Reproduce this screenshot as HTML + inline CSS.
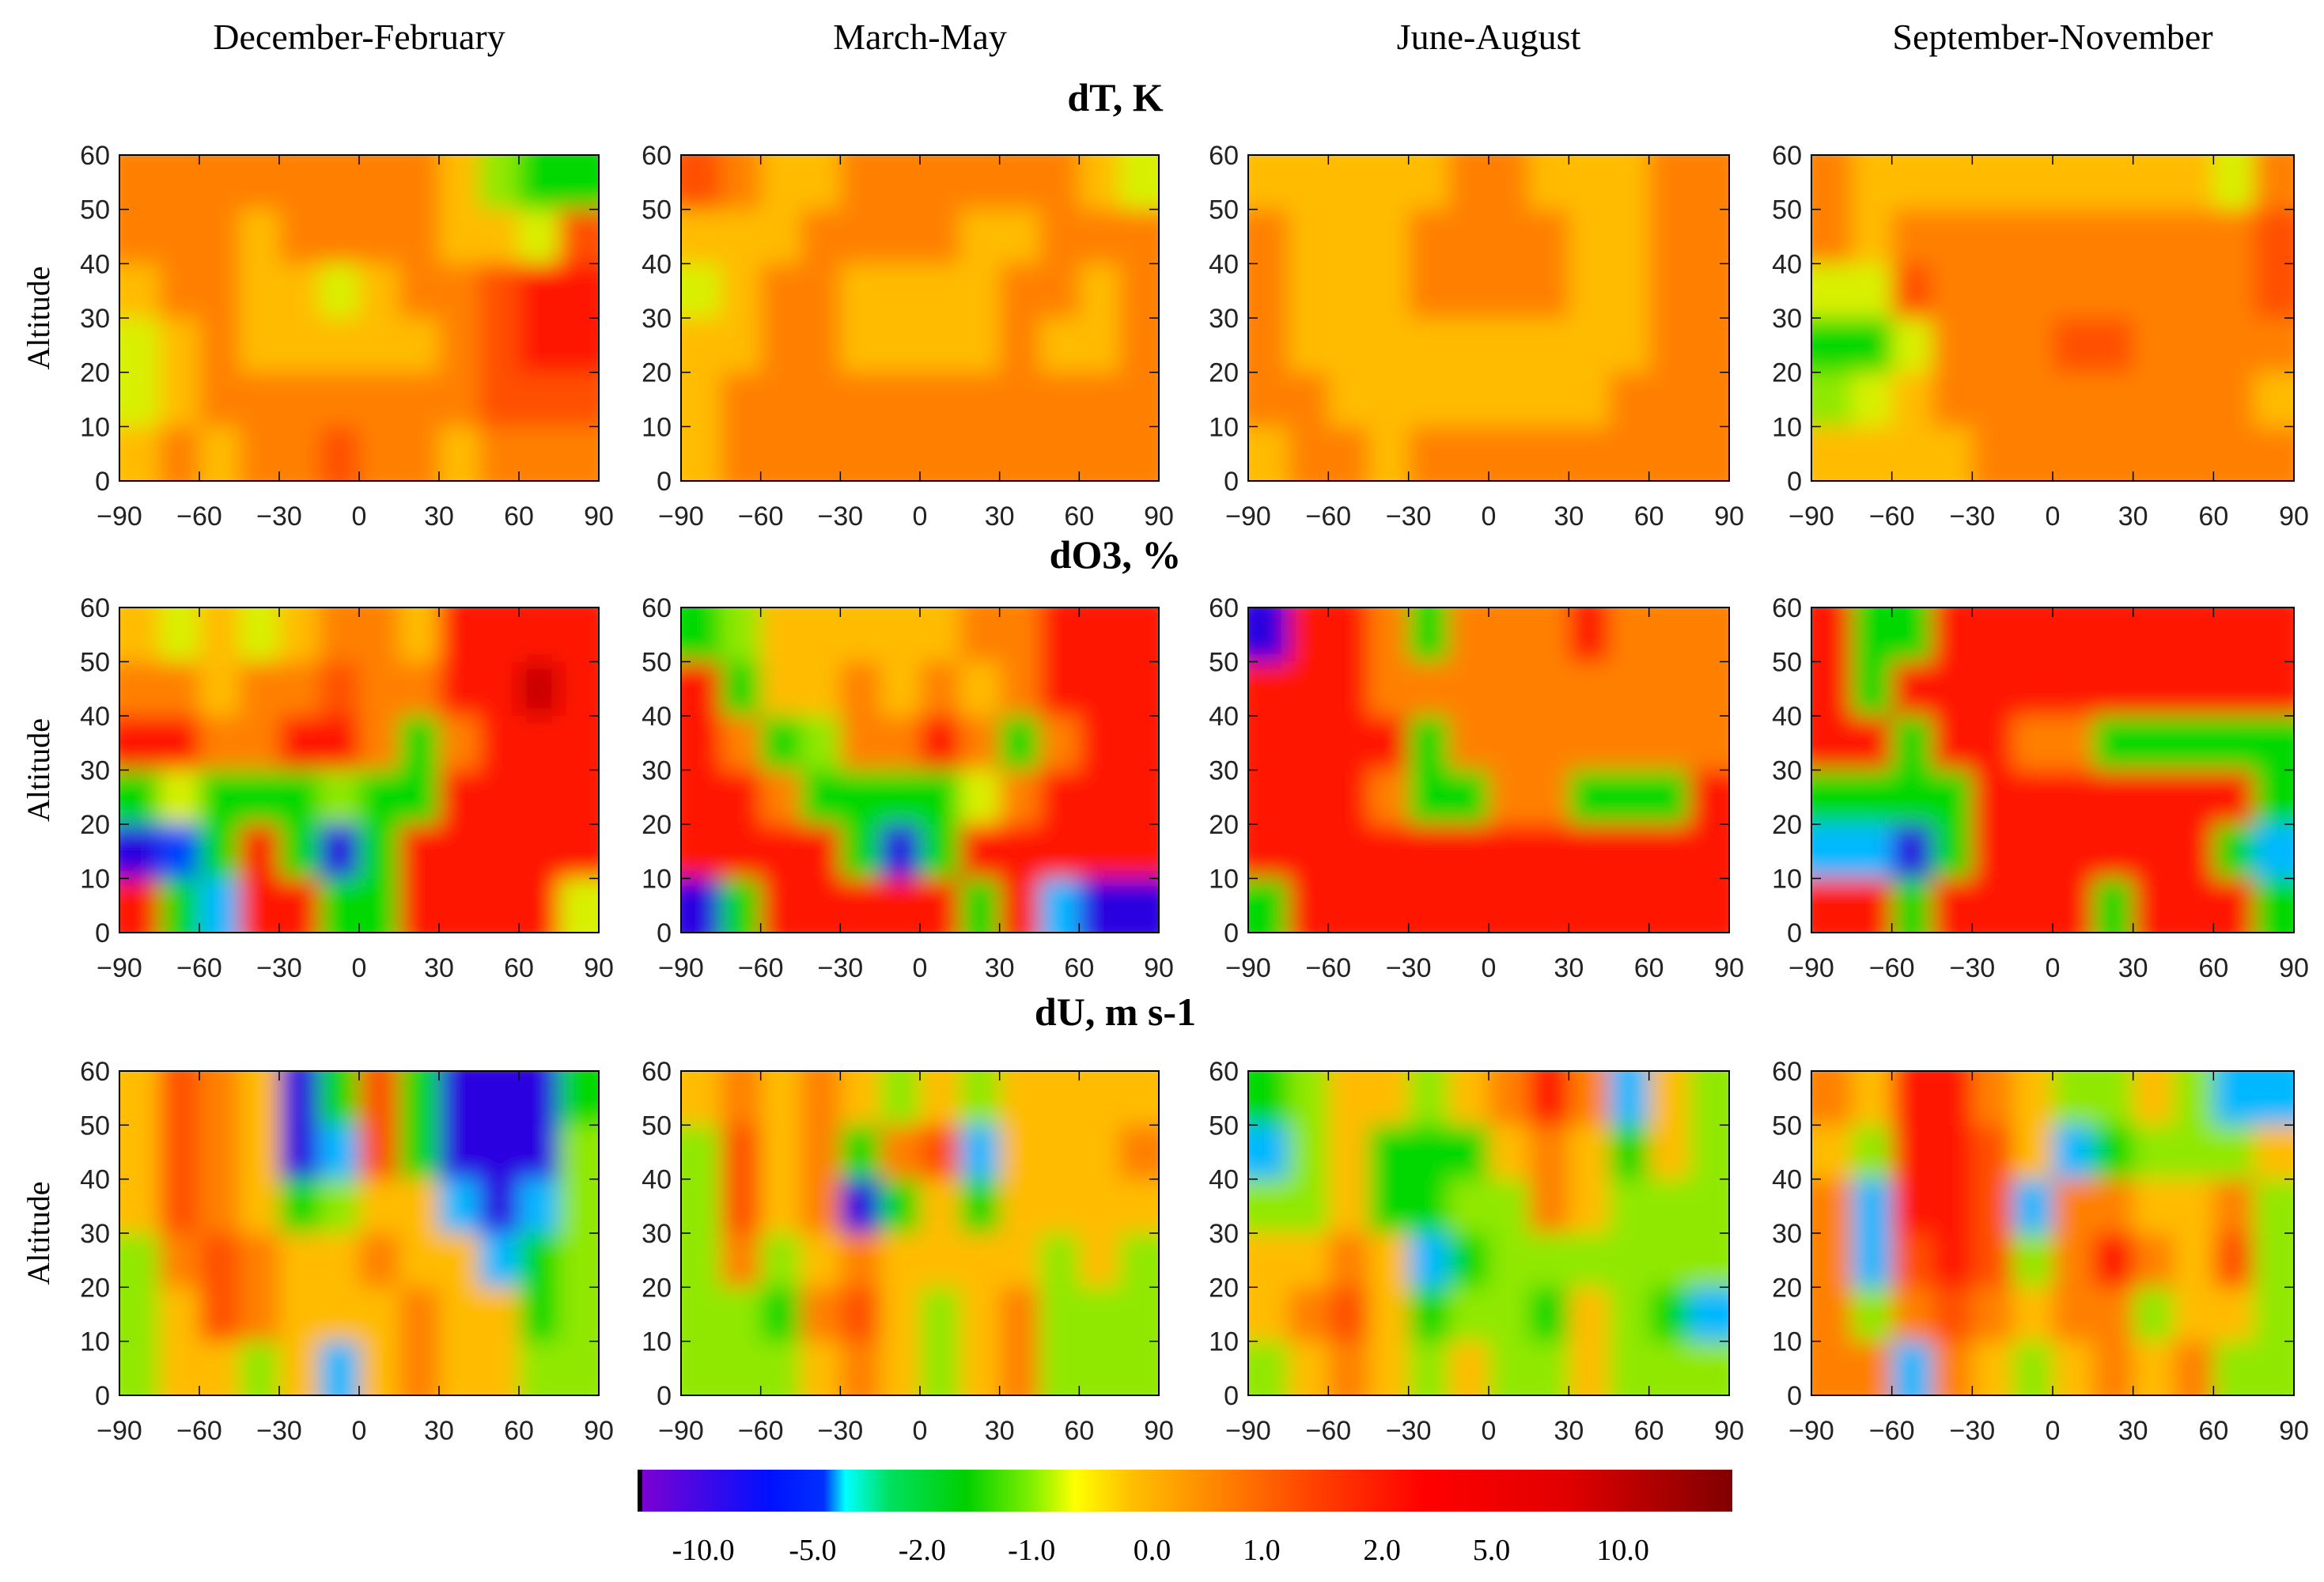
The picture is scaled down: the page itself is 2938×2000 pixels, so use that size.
<!DOCTYPE html>
<html><head><meta charset="utf-8">
<style>
html,body{margin:0;padding:0;background:#fff;}
body{width:2938px;height:1995px;overflow:hidden;}
svg text{font-family:"Liberation Sans",sans-serif;}
.serif{font-family:"Liberation Serif",serif;}
</style></head>
<body>
<svg id="fig" width="2938" height="1995" viewBox="0 0 2938 1995" xmlns="http://www.w3.org/2000/svg">
<defs>
<filter id="soft" x="0" y="0" width="1" height="1"><feGaussianBlur stdDeviation="14"/></filter>
<linearGradient id="cbar" x1="0" x2="1" y1="0" y2="0">
<stop offset="0" stop-color="#8000d0"/><stop offset="0.12" stop-color="#0010ff"/>
<stop offset="0.17" stop-color="#0030ff"/><stop offset="0.19" stop-color="#00ffff"/>
<stop offset="0.23" stop-color="#00e060"/><stop offset="0.30" stop-color="#00d000"/>
<stop offset="0.36" stop-color="#80f000"/><stop offset="0.40" stop-color="#ffff00"/>
<stop offset="0.45" stop-color="#ffc000"/><stop offset="0.52" stop-color="#ff8c00"/>
<stop offset="0.62" stop-color="#ff4000"/><stop offset="0.72" stop-color="#ff0000"/>
<stop offset="0.85" stop-color="#e00000"/><stop offset="1" stop-color="#800000"/>
</linearGradient>
</defs>
</svg>
<script>
// ---- data: each panel 6 altitude bands (top 55 km to bottom 5 km) x 12 latitude bins (-82.5..82.5)
const seasons = ["December-February","March-May","June-August","September-November"];
const variables = ["dT, K","dO3, %","dU, m s-1"];
const latTicks = [-90,-60,-30,0,30,60,90];
const altTicks = [0,10,20,30,40,50,60];
const cbarLabels = ["-10.0","-5.0","-2.0","-1.0","0.0","1.0","2.0","5.0","10.0"];
const cbarLabelPos = [0.06,0.16,0.26,0.36,0.47,0.57,0.68,0.78,0.90];

const dT_DJF = [
[0.7,0.7,0.7,0.7,0.7,0.7,0.7,0.7,0.3,-0.7,-1.5,-1.5],
[0.7,0.7,0.7,0.3,0.7,0.7,0.7,0.7,0.3,0.3,-0.3,1.2],
[0.3,0.7,0.7,0.3,0.3,-0.2,0.3,0.7,0.7,1.2,2.5,2.5],
[-0.3,0.3,0.7,0.3,0.3,0.3,0.3,0.3,0.7,1.2,2.5,2.5],
[-0.3,0.3,0.7,0.7,0.7,0.7,0.7,0.7,0.7,1.2,1.2,1.2],
[0.3,0.7,0.3,0.7,0.7,1.2,0.7,0.7,0.3,0.7,0.7,0.7]];
const dT_MAM = [
[1.2,0.7,0.3,0.3,0.7,0.7,0.7,0.7,0.7,0.7,0.3,-0.3],
[0.3,0.3,0.3,0.7,0.7,0.7,0.7,0.3,0.3,0.7,0.7,0.7],
[-0.3,0.3,0.7,0.7,0.3,0.3,0.3,0.3,0.7,0.7,0.3,0.7],
[0.3,0.3,0.7,0.7,0.3,0.3,0.3,0.3,0.7,0.3,0.3,0.7],
[0.3,0.7,0.7,0.7,0.7,0.7,0.7,0.7,0.7,0.7,0.7,0.7],
[0.3,0.7,0.7,0.7,0.7,0.7,0.7,0.7,0.7,0.7,0.7,0.7]];
const dT_JJA = [
[0.3,0.3,0.3,0.3,0.3,0.7,0.7,0.3,0.3,0.3,0.7,0.7],
[0.7,0.3,0.3,0.3,0.7,0.7,0.7,0.7,0.3,0.3,0.7,0.7],
[0.7,0.3,0.3,0.3,0.7,0.7,0.7,0.7,0.3,0.3,0.7,0.7],
[0.7,0.3,0.3,0.3,0.3,0.3,0.3,0.3,0.3,0.3,0.7,0.7],
[0.7,0.7,0.3,0.3,0.3,0.3,0.3,0.3,0.3,0.7,0.7,0.7],
[0.3,0.7,0.7,0.3,0.7,0.7,0.7,0.7,0.7,0.7,0.7,0.7]];
const dT_SON = [
[0.7,0.3,0.3,0.3,0.3,0.3,0.3,0.3,0.3,0.3,-0.3,0.7],
[0.7,0.3,0.7,0.7,0.7,0.7,0.7,0.7,0.7,0.7,0.7,1.2],
[-0.3,-0.3,1.2,0.7,0.7,0.7,0.7,0.7,0.7,0.7,0.7,1.2],
[-1.5,-1.5,-0.3,0.7,0.7,0.7,1.2,1.2,0.7,0.7,0.7,0.7],
[-0.7,-0.3,0.3,0.7,0.7,0.7,0.7,0.7,0.7,0.7,0.7,0.3],
[0.3,0.3,0.3,0.3,0.7,0.7,0.7,0.7,0.7,0.7,0.7,0.7]];
const dO3_DJF = [
[0.3,-0.3,0.3,-0.3,0.3,0.7,0.7,0.3,2.5,2.5,2.5,2.5],
[0.7,0.7,0.3,0.7,0.7,1.2,0.7,0.7,2.5,2.5,5.5,2.5],
[2.5,2.5,0.7,0.7,2.5,2.5,0.7,-1.5,0.7,2.5,2.5,2.5],
[-1.5,-0.3,-1.5,-1.5,-1.5,-0.7,-1.5,-1.5,2.5,2.5,2.5,2.5],
[-7,-4,-1.5,2.5,-1.5,-7,-1.5,2.5,2.5,2.5,2.5,2.5],
[2.5,-1.5,-2.5,2.5,2.5,-1.5,-1.5,2.5,2.5,2.5,2.5,-0.3]];
const dO3_MAM = [
[-1.5,-0.7,0.3,0.3,0.3,0.3,0.3,0.7,0.7,2.5,2.5,2.5],
[2.5,-1.5,0.3,0.3,0.7,0.3,0.7,0.3,0.7,2.5,2.5,2.5],
[2.5,0.7,-1.5,-0.7,0.7,0.7,2.5,0.7,-1.5,0.7,2.5,2.5],
[2.5,2.5,0.7,-1.5,-1.5,-1.5,-1.5,-0.3,0.7,2.5,2.5,2.5],
[2.5,2.5,2.5,2.5,-1.5,-7,-1.5,2.5,2.5,2.5,2.5,2.5],
[-7,-1.5,2.5,2.5,2.5,2.5,2.5,-1.5,2.5,-3,-7,-7]];
const dO3_JJA = [
[-7,2.5,2.5,0.7,-1.5,0.7,0.7,0.7,2.5,0.7,0.7,0.7],
[2.5,2.5,2.5,0.7,0.7,0.7,0.7,0.7,0.7,0.7,0.7,0.7],
[2.5,2.5,2.5,2.5,-1.5,0.7,0.7,0.7,0.7,0.7,0.7,0.7],
[2.5,2.5,2.5,0.7,-1.5,-1.5,0.7,0.7,-1.5,-1.5,-1.5,2.5],
[2.5,2.5,2.5,2.5,2.5,2.5,2.5,2.5,2.5,2.5,2.5,2.5],
[-1.5,2.5,2.5,2.5,2.5,2.5,2.5,2.5,2.5,2.5,2.5,2.5]];
const dO3_SON = [
[2.5,-1.5,-1.5,2.5,2.5,2.5,2.5,2.5,2.5,2.5,2.5,2.5],
[2.5,-1.5,2.5,2.5,2.5,2.5,2.5,2.5,2.5,2.5,2.5,2.5],
[2.5,2.5,-1.5,2.5,2.5,0.7,0.7,-1.5,-1.5,-1.5,-1.5,-1.5],
[-1.5,-1.5,-1.5,-1.5,2.5,2.5,2.5,2.5,2.5,2.5,2.5,-1.5],
[-3,-3,-7,-1.5,2.5,2.5,2.5,2.5,2.5,2.5,-1.5,-3],
[2.5,2.5,-1.5,2.5,2.5,2.5,2.5,-1.5,2.5,2.5,2.5,-1.5]];
const dU_DJF = [
[0.3,1.2,0.7,0.3,-7,-1.5,1.2,-1.5,-7,-7,-7,-1.5],
[0.3,1.2,0.7,0.3,-7,-3,1.2,-1.5,-7,-7,-7,-0.7],
[0.3,1.2,0.7,0.3,-1.5,-0.7,0.3,0.3,-3,-7,-3,-0.7],
[-0.7,0.7,1.2,0.7,0.3,0.3,0.7,0.3,0.3,-3,-1.5,-0.7],
[-0.7,0.3,1.2,0.7,0.3,0.3,0.3,0.7,0.3,0.3,-1.5,-0.7],
[-0.7,0.3,0.3,-0.7,0.3,-3,0.3,0.7,0.3,0.3,-0.7,-0.7]];
const dU_MAM = [
[0.3,0.7,0.3,0.7,0.3,-0.7,0.3,-0.7,0.3,0.3,0.3,0.3],
[-0.7,1.2,0.3,0.7,-1.5,0.7,1.2,-3,0.3,0.3,0.3,0.7],
[-0.7,1.2,0.3,0.7,-7,-1.5,0.3,-1.5,0.3,0.3,0.3,0.3],
[-0.7,0.7,-0.7,0.3,0.7,0.3,0.3,0.3,0.3,-0.7,0.3,-0.7],
[-0.7,-0.7,-1.5,0.7,1.2,0.3,-0.7,0.3,0.7,-0.7,-0.7,-0.7],
[-0.7,-0.7,-0.7,0.3,0.7,0.3,-0.7,0.3,0.7,-0.7,-0.7,-0.7]];
const dU_JJA = [
[-1.5,-0.7,0.3,0.3,-0.7,0.3,0.7,2.5,0.7,-3,0.3,-0.7],
[-3,-0.7,0.3,-1.5,-1.5,-1.5,0.3,0.7,0.3,-1.5,0.3,-0.7],
[-0.7,-0.7,0.3,-1.5,-1.5,-0.7,-0.7,0.7,0.3,-0.7,-0.7,-0.7],
[0.3,0.3,0.7,0.3,-3,-1.5,-0.7,-0.7,-0.7,-0.7,-0.7,-0.7],
[0.3,0.7,1.2,0.3,-1.5,-0.7,-0.7,-1.5,0.3,-0.7,-1.5,-3],
[-0.7,0.3,0.7,0.3,-0.7,0.3,-0.7,-0.7,0.3,-0.7,-0.7,-0.7]];
const dU_SON = [
[0.7,0.3,2.5,2.5,0.7,0.3,-0.7,-0.7,0.3,-0.7,-3,-3],
[0.3,-0.7,2.5,2.5,1.2,0.3,-3,-1.5,-0.7,-0.7,-0.7,0.3],
[0.7,-3,2.5,2.5,1.2,-3,0.7,0.7,0.3,0.3,0.7,-0.7],
[0.7,-3,1.2,2.5,1.2,-0.7,0.7,2.5,0.7,0.3,1.2,-0.7],
[0.7,-0.7,0.7,1.2,0.7,0.3,0.7,0.7,-0.7,0.3,0.3,-0.7],
[0.7,0.7,-3,0.7,0.3,-0.7,0.3,0.7,0.3,0.7,-0.7,-0.7]];

const panelData = [
[dT_DJF,dT_MAM,dT_JJA,dT_SON],
[dO3_DJF,dO3_MAM,dO3_JJA,dO3_SON],
[dU_DJF,dU_MAM,dU_JJA,dU_SON]];

// ---- layout
const colX = [[151,757],[861,1465],[1578,2186],[2290,2900]];
const rowY = [[196,608],[768,1179],[1354,1764]];
const seasonTitleY = 62;
const varTitleY = [140,718,1296];
const NS = "http://www.w3.org/2000/svg";
const svg = document.getElementById('fig');

function mk(tag, attrs, parent){
  const e = document.createElementNS(NS, tag);
  for (const k in attrs) e.setAttribute(k, attrs[k]);
  (parent||svg).appendChild(e);
  return e;
}
function color(v){
  if (v < -5) return "#2a00e0";
  if (v < -3.5) return "#0040ff";
  if (v < -2.2) return "#00b8ff";
  if (v < -1) return "#00d800";
  if (v < -0.5) return "#90e800";
  if (v < 0) return "#d8f000";
  if (v < 0.5) return "#ffbb00";
  if (v < 1) return "#ff8000";
  if (v < 2) return "#ff5000";
  if (v < 5) return "#ff1400";
  return "#c80000";
}

// season titles
seasons.forEach((s,i)=>{
  const t = mk('text',{x:(colX[i][0]+colX[i][1])/2, y:seasonTitleY, 'text-anchor':'middle', 'font-size':46, class:'serif', fill:'#000'});
  
  
  t.textContent = s;
});
// variable titles
variables.forEach((v,r)=>{
  const t = mk('text',{x:1410, y:varTitleY[r], 'text-anchor':'middle', 'font-size':50, 'font-weight':'bold', class:'serif', fill:'#000'});
  
  
  t.textContent = v;
});

for (let r=0;r<3;r++){
  const [y0,y1] = rowY[r];
  // Altitude label
  const al = mk('text',{x:0,y:0,transform:`translate(62,${(y0+y1)/2}) rotate(-90)`, 'text-anchor':'middle','font-size':40, class:'serif', fill:'#000'});
  
  
  al.textContent = "Altitude";
  for (let c=0;c<4;c++){
    const [x0,x1] = colX[c];
    const data = panelData[r][c];
    const nr = data.length, nc = data[0].length;
    const xs = lat => x0 + (lat+90)/180*(x1-x0);
    const ys = alt => y1 - alt/60*(y1-y0);
    const g = mk('g',{});
    
    
    const cpId = `cp${r}${c}`;
    const cp = mk('clipPath',{id:cpId}, g);
    mk('rect',{x:x0,y:y0,width:x1-x0,height:y1-y0}, cp);
    const cells = mk('g',{'clip-path':`url(#${cpId})`}, g);
    const inner = mk('g',{filter:'url(#soft)'}, cells);
    // background fill by mean of edge
    for (let i=0;i<nr;i++){
      for (let j=0;j<nc;j++){
        const latA = -90 + j*180/nc, latB = -90 + (j+1)*180/nc;
        const altTop = 60 - i*60/nr, altBot = 60 - (i+1)*60/nr;
        const pad = 20;
        const px0 = xs(latA) - (j===0?pad:0), px1 = xs(latB) + (j===nc-1?pad:0);
        const py0 = ys(altTop) - (i===0?pad:0), py1 = ys(altBot) + (i===nr-1?pad:0);
        const cell = mk('rect',{x:px0, y:py0, width:px1-px0+0.5, height:py1-py0+0.5, fill:color(data[i][j])}, inner);
        
        
      }
    }
    mk('rect',{x:x0,y:y0,width:x1-x0,height:y1-y0,fill:'none',stroke:'#000','stroke-width':2}, g);
    // ticks
    latTicks.forEach(l=>{
      const x = xs(l);
      mk('line',{x1:x,x2:x,y1:y1,y2:y1-12,stroke:'#000','stroke-width':1.5}, g);
      mk('line',{x1:x,x2:x,y1:y0,y2:y0+12,stroke:'#000','stroke-width':1.5}, g);
      const t = mk('text',{x:x, y:y1+56, 'text-anchor':'middle','font-size':34, fill:'#222'}, g);
      
      
      t.textContent = l<0 ? '\u2212'+(-l) : String(l);
    });
    altTicks.forEach(a=>{
      const y = ys(a);
      mk('line',{x1:x0,x2:x0+12,y1:y,y2:y,stroke:'#000','stroke-width':1.5}, g);
      mk('line',{x1:x1,x2:x1-12,y1:y,y2:y,stroke:'#000','stroke-width':1.5}, g);
      const t = mk('text',{x:x0-12, y:y+12, 'text-anchor':'end','font-size':34, fill:'#222'}, g);
      
      
      t.textContent = String(a);
    });
  }
}

// colorbar
const cb = mk('g',{});


const cbX0 = 806, cbX1 = 2190, cbY0 = 1858, cbY1 = 1911;
mk('rect',{x:cbX0,y:cbY0,width:cbX1-cbX0,height:cbY1-cbY0,fill:'url(#cbar)'}, cb);
mk('rect',{x:cbX0,y:cbY0,width:6,height:cbY1-cbY0,fill:'#000'}, cb);
cbarLabels.forEach((l,i)=>{
  const t = mk('text',{x:cbX0 + cbarLabelPos[i]*(cbX1-cbX0), y:1972, 'text-anchor':'middle','font-size':38, class:'serif', fill:'#000'}, cb);
  
  
  t.textContent = l;
});
</script>
</body></html>
